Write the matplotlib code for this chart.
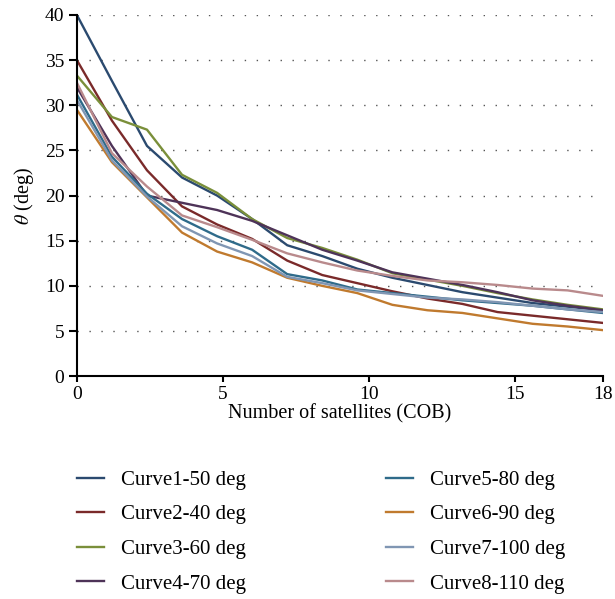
import numpy as np
import matplotlib
matplotlib.use("Agg")
import matplotlib.pyplot as plt

plt.rcParams['font.family'] = ['Liberation Serif', 'DejaVu Serif']
plt.rcParams['mathtext.fontset'] = 'stix'

x = np.linspace(0, 18, 16)

curve1 = [40.0, 32.7, 25.5, 22.0, 20.0, 17.4, 14.5, 13.3, 11.9, 10.9, 10.1, 9.3, 8.7, 8.1, 7.7, 7.3]
curve2 = [35.0, 28.3, 22.8, 18.8, 16.8, 15.2, 12.8, 11.2, 10.3, 9.4, 8.6, 8.0, 7.1, 6.7, 6.3, 5.9]
curve3 = [33.3, 28.7, 27.3, 22.3, 20.3, 17.4, 15.3, 14.2, 12.9, 11.4, 10.7, 10.0, 9.2, 8.5, 7.9, 7.4]
curve4 = [32.0, 25.5, 20.0, 19.2, 18.4, 17.2, 15.6, 14.0, 12.8, 11.5, 10.8, 10.1, 9.3, 8.4, 7.8, 7.3]
curve5 = [31.2, 24.3, 20.2, 17.4, 15.5, 14.0, 11.3, 10.6, 9.6, 9.2, 8.8, 8.4, 8.1, 7.8, 7.4, 7.0]
curve6 = [29.5, 23.7, 19.8, 15.9, 13.8, 12.6, 10.9, 10.0, 9.2, 7.9, 7.3, 7.0, 6.4, 5.8, 5.5, 5.1]
curve7 = [30.6, 23.9, 19.9, 16.6, 14.7, 13.3, 11.0, 10.3, 9.5, 9.1, 8.7, 8.5, 8.2, 7.8, 7.4, 7.1]
curve8 = [32.5, 24.7, 21.0, 17.8, 16.5, 15.1, 13.6, 12.6, 11.7, 11.1, 10.6, 10.4, 10.1, 9.7, 9.5, 8.9]

series = [curve1, curve2, curve3, curve4, curve5, curve6, curve7, curve8]
labels = ["Curve1-50 deg", "Curve2-40 deg", "Curve3-60 deg", "Curve4-70 deg",
          "Curve5-80 deg", "Curve6-90 deg", "Curve7-100 deg", "Curve8-110 deg"]
colors = ["#2B4A6F", "#7A2A2A", "#7A8F3A", "#4E3358",
          "#2F6B8A", "#C07A2E", "#8096B3", "#B98A8C"]

xticks = [0, 5, 10, 15, 18]
yticks = [0, 5, 10, 15, 20, 25, 30, 35, 40]

fig = plt.figure(figsize=(6.15, 5.99), dpi=100)
ax = fig.add_axes([0.125, 0.372, 0.855, 0.603])

for yv in yticks[1:]:
    ax.axhline(yv, color="#555555", lw=1.0, linestyle=(0, (1, 7.6)), zorder=0)

handles = []
for s, lab, c in zip(series, labels, colors):
    h, = ax.plot(x, s, color=c, lw=1.7, label=lab)
    handles.append(h)

ax.set_xlim(0, 18)
ax.set_ylim(0, 40)
ax.set_xticks(xticks)
ax.set_yticks(yticks)
ax.tick_params(axis='both', labelsize=14, direction='out', width=1.5, colors='black', pad=3)
ax.tick_params(axis='y', length=6)
ax.tick_params(axis='x', length=4)
for sp in ['top', 'right']:
    ax.spines[sp].set_visible(False)
for sp in ['left', 'bottom']:
    ax.spines[sp].set_linewidth(1.5)
ax.set_xlabel("Number of satellites (COB)", fontsize=14.5, labelpad=1)
ax.set_ylabel(r"$\theta$ (deg)", fontsize=14.5, labelpad=6)

fig.legend(handles=handles, labels=labels, ncol=2, loc='upper left',
           bbox_to_anchor=(0.125, 0.215), frameon=False, fontsize=15,
           borderpad=0, borderaxespad=0, handlelength=1.3, handletextpad=0.82,
           labelspacing=0.72, columnspacing=6.7)

fig.savefig("out.png", dpi=100)
